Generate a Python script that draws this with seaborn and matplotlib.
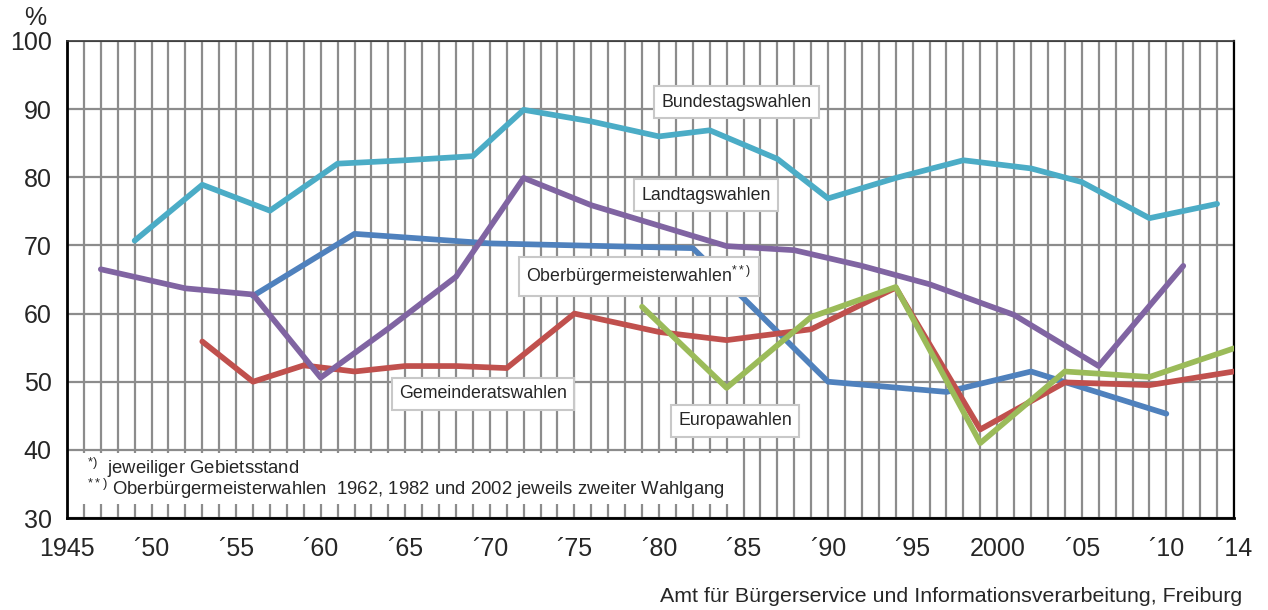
import matplotlib
matplotlib.use("Agg")
import matplotlib.pyplot as plt
import seaborn as sns
import pandas as pd
from matplotlib.patches import Rectangle

# ---- data ----
bt_years = [1949, 1953, 1957, 1961, 1965, 1969, 1972, 1976, 1980, 1983, 1987, 1990, 1994, 1998, 2002, 2005, 2009, 2013]
bt_vals  = [70.7, 78.9, 75.1, 82.0, 82.5, 83.1, 89.9, 88.2, 86.0, 86.9, 82.7, 76.9, 79.9, 82.5, 81.3, 79.3, 74.0, 76.1]

lt_years = [1947, 1952, 1956, 1960, 1964, 1968, 1972, 1976, 1980, 1984, 1988, 1992, 1996, 2001, 2006, 2011]
lt_vals  = [66.5, 63.7, 62.8, 50.6, 57.8, 65.4, 79.9, 75.9, 72.9, 69.9, 69.3, 67.0, 64.3, 59.8, 52.3, 67.0]

ob_years = [1956, 1962, 1970, 1982, 1990, 1997, 2002, 2010]
ob_vals  = [62.6, 71.7, 70.3, 69.6, 50.0, 48.5, 51.5, 45.3]

gr_years = [1953, 1956, 1959, 1962, 1965, 1968, 1971, 1975, 1980, 1984, 1989, 1994, 1999, 2004, 2009, 2014]
gr_vals  = [55.9, 50.0, 52.4, 51.5, 52.3, 52.3, 52.0, 60.0, 57.3, 56.1, 57.7, 63.8, 43.0, 49.9, 49.5, 51.5]

eu_years = [1979, 1984, 1989, 1994, 1999, 2004, 2009, 2014]
eu_vals  = [61.0, 49.1, 59.5, 63.9, 41.0, 51.5, 50.7, 54.9]

series_names = ["Oberbürgermeisterwahlen", "Bundestagswahlen", "Gemeinderatswahlen",
                "Landtagswahlen", "Europawahlen"]
series_colors = ["#4F81BD", "#4BACC6", "#C0504D", "#8064A2", "#9BBB59"]

tick_years = [1945, 1950, 1955, 1960, 1965, 1970, 1975, 1980, 1985, 1990, 1995, 2000, 2005, 2010, 2014]
tick_labels = ["1945", "´50", "´55", "´60", "´65", "´70", "´75", "´80", "´85", "´90", "´95",
               "2000", "´05", "´10", "´14"]

label_texts = ["Bundestagswahlen", "Landtagswahlen", "Oberbürgermeisterwahlen$^{**)}$",
               "Gemeinderatswahlen", "Europawahlen"]
label_pos = [(1984.6, 91.0), (1982.8, 77.4), (1978.8, 65.5), (1969.6, 48.2), (1984.5, 44.3)]

# ---- build long table ----
frames = []
for name, yrs, vals in [("Bundestagswahlen", bt_years, bt_vals),
                        ("Landtagswahlen", lt_years, lt_vals),
                        ("Oberbürgermeisterwahlen", ob_years, ob_vals),
                        ("Gemeinderatswahlen", gr_years, gr_vals),
                        ("Europawahlen", eu_years, eu_vals)]:
    frames.append(pd.DataFrame({"Jahr": yrs, "Wert": vals, "Wahl": name}))
df = pd.concat(frames, ignore_index=True)

sns.set_style("white")
plt.rcParams["font.family"] = ["Liberation Sans", "DejaVu Sans"]
plt.rcParams["mathtext.default"] = "regular"

fig = plt.figure(figsize=(12.68, 6.10), dpi=100)
ax = fig.add_axes([67 / 1268, 1 - 518 / 610, (1234 - 67) / 1268, (518 - 41) / 610])

sns.lineplot(data=df, x="Jahr", y="Wert", hue="Wahl", hue_order=series_names,
             palette=dict(zip(series_names, series_colors)), linewidth=4.1,
             legend=False, ax=ax, sort=True, estimator=None,
             solid_capstyle="round", solid_joinstyle="round", zorder=3)

ax.set_xlim(1945, 2014)
ax.set_ylim(30, 100)
ax.set_xlabel("")
ax.set_ylabel("")

# grid
ax.set_xticks(range(1945, 2015), minor=True)
ax.set_xticks(tick_years)
ax.set_xticklabels(tick_labels, fontsize=18)
ax.set_yticks(range(30, 101, 10))
ax.set_yticklabels([str(v) for v in range(30, 101, 10)], fontsize=18)
ax.grid(True, which="both", axis="x", color="#8c8c8c", linewidth=1.6, zorder=0)
ax.grid(True, which="major", axis="y", color="#8c8c8c", linewidth=1.6, zorder=0)
ax.set_axisbelow(True)

ax.tick_params(axis="x", which="both", direction="inout", length=14, width=1.4, color="black",
               pad=7)
ax.tick_params(axis="y", which="major", direction="out", length=8, width=1.4, color="black", pad=3)

for side in ["left", "bottom"]:
    ax.spines[side].set_color("black")
    ax.spines[side].set_linewidth(2.0)
ax.spines["right"].set_color("black")
ax.spines["right"].set_linewidth(1.6)
ax.spines["top"].set_color("#333333")
ax.spines["top"].set_linewidth(1.2)

# labels with boxes
for txt, (x, y) in zip(label_texts, label_pos):
    ax.text(x, y, txt, fontsize=12.8, ha="center", va="center", zorder=5,
            bbox=dict(boxstyle="square,pad=0.42", facecolor="white", edgecolor="#c8c8c8",
                      linewidth=1.5))

# footnote box
ax.add_patch(Rectangle((1945.8, 32.0), 38.4, 7.6, facecolor="white", edgecolor="none",
                       zorder=1.5))
ax.text(1946.2, 37.4, "$^{*)}$  jeweiliger Gebietsstand", fontsize=13.3, ha="left", va="center",
        zorder=6)
ax.text(1946.2, 34.2, "$^{**)}$ Oberbürgermeisterwahlen  1962, 1982 und 2002 jeweils zweiter Wahlgang",
        fontsize=13.3, ha="left", va="center", zorder=6)

fig.text(35 / 1268, 1 - 18 / 610, "%", fontsize=18, ha="center", va="center")
fig.text(1242 / 1268, 1 - 597 / 610,
         "Amt für Bürgerservice und Informationsverarbeitung, Freiburg",
         fontsize=15.4, ha="right", va="center")

fig.savefig("out.png", dpi=100)
